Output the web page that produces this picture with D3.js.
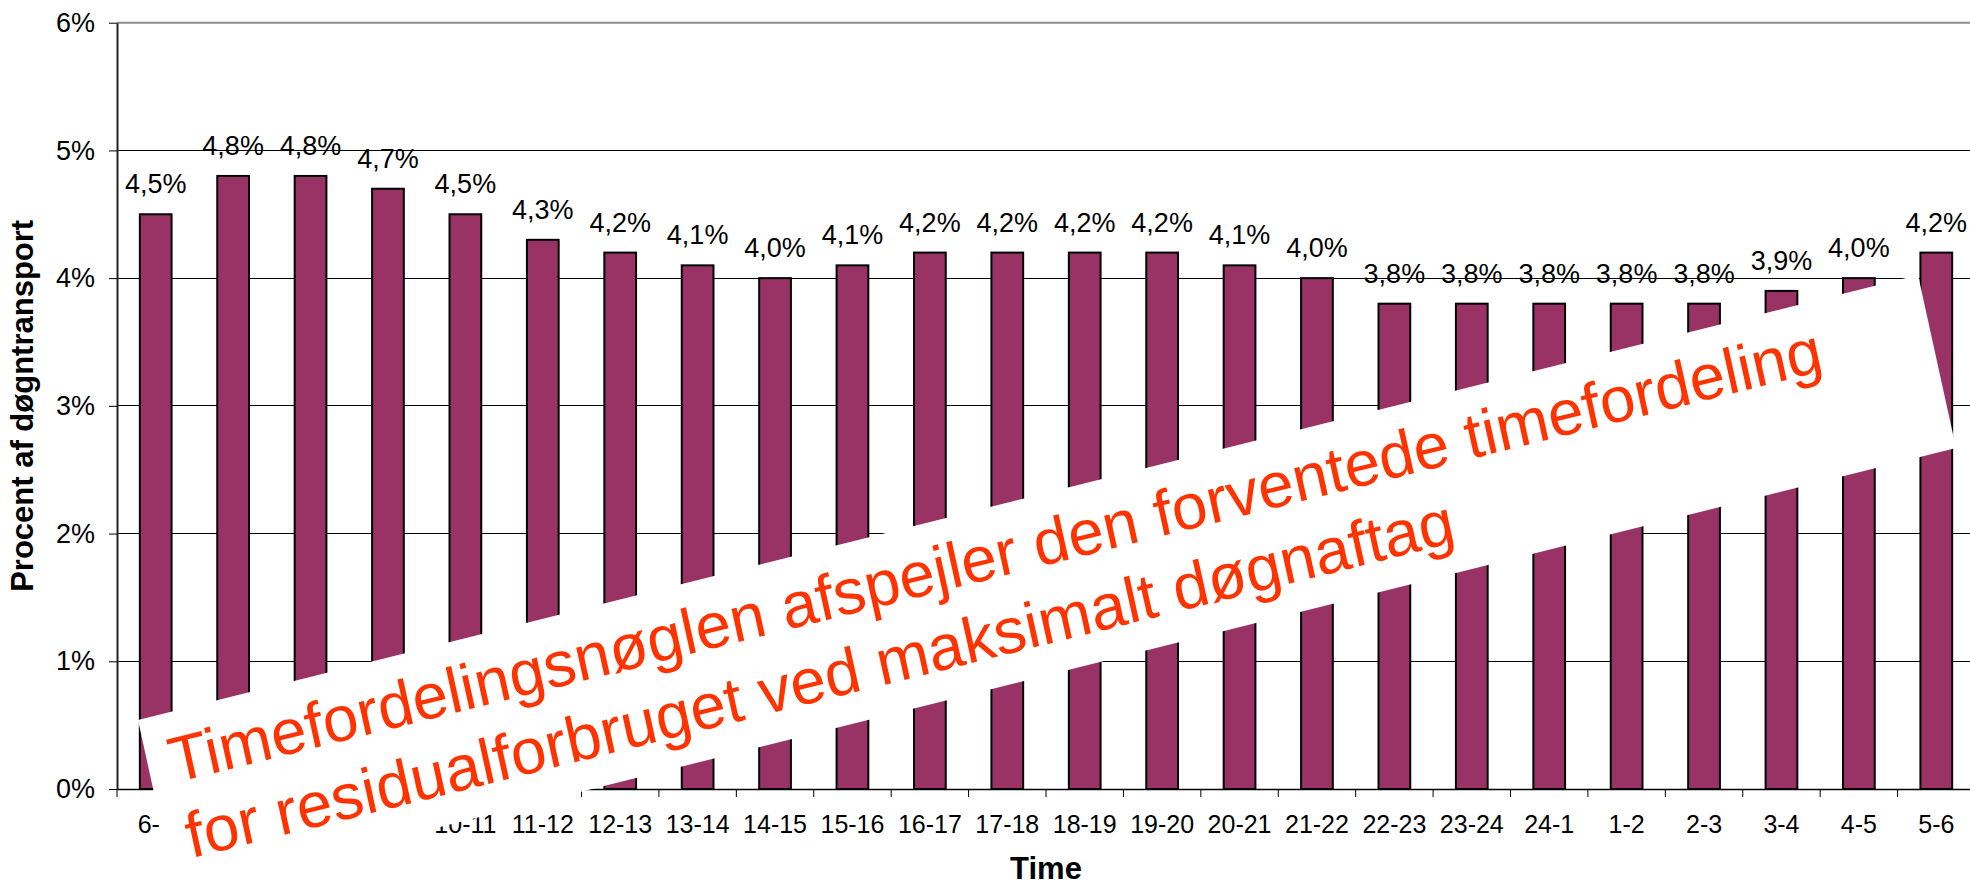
<!DOCTYPE html>
<html>
<head>
<meta charset="utf-8">
<script src="https://cdn.jsdelivr.net/npm/d3@7"></script>
<style>
  body { margin: 0; background: #fff; }
  svg { display: block; font-family: "Liberation Sans", Arial, sans-serif; }
</style>
</head>
<body>
<div class="chart"></div>
<script>
'use strict';

// Data
const categories = ['6-7', '7-8', '8-9', '9-10', '10-11', '11-12', '12-13', '13-14', '14-15', '15-16',
  '16-17', '17-18', '18-19', '19-20', '20-21', '21-22', '22-23', '23-24', '24-1', '1-2',
  '2-3', '3-4', '4-5', '5-6'];
const values = [4.5, 4.8, 4.8, 4.7, 4.5, 4.3, 4.2, 4.1, 4.0, 4.1,
  4.2, 4.2, 4.2, 4.2, 4.1, 4.0, 3.8, 3.8, 3.8, 3.8,
  3.8, 3.9, 4.0, 4.2];
const yTicks = [0, 1, 2, 3, 4, 5, 6];
const yTitle = 'Procent af døgntransport';
const xTitle = 'Time';
const noteLines = ['Timefordelingsnøglen afspejler den forventede timefordeling',
  'for residualforbruget ved maksimalt døgnaftag'];

// Initialize
const w = 1970;
const h = 885;
const plotLeft = 117;
const plotRight = 1975;
const plotTop = 22.7;
const plotBottom = 789;
const barColor = '#993366';

const svg = d3.select('.chart')
              .append('svg')
              .attr('width', w)
              .attr('height', h);

// Scales
const xScale = d3.scaleBand()
                .domain(categories)
                .range([plotLeft, plotRight])
                .paddingInner(0.59)
                .paddingOuter(0.295);

const yScale = d3.scaleLinear()
                .domain([0, 6])
                .range([plotBottom, plotTop]);

const step = xScale.step();
const comma = d3.formatLocale({ decimal: ',', thousands: '.', grouping: [3], currency: ['', ''] }).format('.1f');

// Gridlines
svg.append('g')
  .attr('shape-rendering', 'crispEdges')
  .selectAll('line')
  .data(yTicks.filter(d => d > 0 && d < 6))
  .enter()
  .append('line')
  .attr('x1', plotLeft)
  .attr('x2', plotRight)
  .attr('y1', d => yScale(d))
  .attr('y2', d => yScale(d))
  .attr('stroke', '#000')
  .attr('stroke-width', 1);

// top border of the plot area
svg.append('line')
  .attr('x1', plotLeft)
  .attr('x2', plotRight)
  .attr('y1', yScale(6))
  .attr('y2', yScale(6))
  .attr('stroke', '#8c8c8c')
  .attr('stroke-width', 2);

// Bars
svg.append('g')
  .selectAll('rect')
  .data(values)
  .enter()
  .append('rect')
  .attr('x', (d, i) => xScale(categories[i]))
  .attr('y', d => yScale(d))
  .attr('width', xScale.bandwidth())
  .attr('height', d => plotBottom - yScale(d))
  .attr('fill', barColor)
  .attr('stroke', '#000')
  .attr('stroke-width', 2);

// Value labels
svg.append('g')
  .selectAll('text')
  .data(values)
  .enter()
  .append('text')
  .attr('x', (d, i) => xScale(categories[i]) + xScale.bandwidth() / 2)
  .attr('y', d => yScale(d) - 21)
  .attr('text-anchor', 'middle')
  .attr('font-size', 27)
  .attr('fill', '#000')
  .text(d => comma(d) + '%');

// Axes
const yAxis = d3.axisLeft(yScale)
                .tickValues(yTicks)
                .tickFormat(d => d + '%')
                .tickSize(8)
                .tickSizeOuter(0)
                .tickPadding(14);

const gy = svg.append('g')
  .attr('transform', `translate(${plotLeft}, 0)`)
  .call(yAxis);
gy.selectAll('text').attr('font-size', 27).attr('fill', '#000');
gy.selectAll('line').attr('stroke', '#000');
gy.select('.domain').attr('stroke', '#222').attr('stroke-width', 2);
gy.attr('font-family', null);

const xAxis = d3.axisBottom(xScale)
                .tickSize(0)
                .tickSizeOuter(0)
                .tickPadding(26);

const gx = svg.append('g')
  .attr('transform', `translate(0, ${plotBottom})`)
  .call(xAxis);
gx.selectAll('text').attr('font-size', 25).attr('fill', '#000');
gx.select('.domain').attr('stroke', '#000').attr('stroke-width', 1.5);
gx.attr('font-family', null);

// category boundary ticks
gx.append('g')
  .selectAll('line')
  .data(d3.range(categories.length + 1))
  .enter()
  .append('line')
  .attr('x1', i => plotLeft + i * step)
  .attr('x2', i => plotLeft + i * step)
  .attr('y1', 0)
  .attr('y2', 8)
  .attr('stroke', '#000');

// Axis titles
svg.append('text')
  .attr('transform', `translate(33, ${(plotTop + plotBottom) / 2}) rotate(-90)`)
  .attr('text-anchor', 'middle')
  .attr('font-size', 31)
  .attr('font-weight', 'bold')
  .text(yTitle);

svg.append('text')
  .attr('x', (plotLeft + plotRight) / 2)
  .attr('y', 879)
  .attr('text-anchor', 'middle')
  .attr('font-size', 31)
  .attr('font-weight', 'bold')
  .text(xTitle);

// Tilted note pasted on top of the chart
const tl = [138, 720];
const tr = [1918, 275];
const bl = [176, 893];
const noteW = Math.hypot(tr[0] - tl[0], tr[1] - tl[1]);
const noteH = Math.hypot(bl[0] - tl[0], bl[1] - tl[1]);
const m = [
  (tr[0] - tl[0]) / noteW, (tr[1] - tl[1]) / noteW,
  (bl[0] - tl[0]) / noteH, (bl[1] - tl[1]) / noteH,
  tl[0], tl[1]
];

const note = svg.append('g')
  .attr('transform', `matrix(${m.join(',')})`);

note.append('rect')
  .attr('width', noteW)
  .attr('height', noteH)
  .attr('fill', '#fff');

note.selectAll('text')
  .data(noteLines)
  .enter()
  .append('text')
  .attr('x', 22)
  .attr('y', (d, i) => 70 + i * 77)
  .attr('font-size', 64)
  .attr('fill', '#ff3300')
  .text(d => d);
</script>
</body>
</html>
